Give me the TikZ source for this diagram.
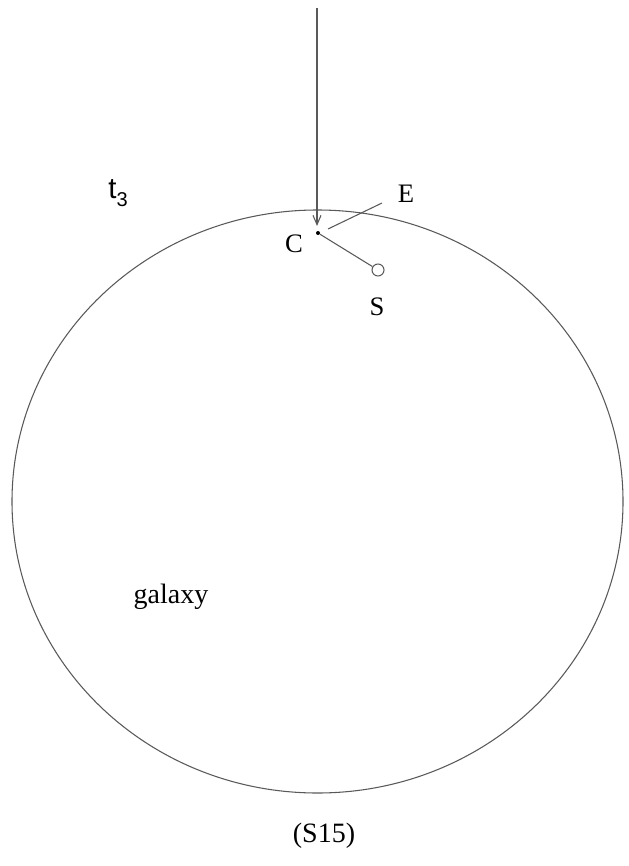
\documentclass[tikz,border=0pt]{standalone}
\usepackage{fontspec}
\setmainfont{Liberation Serif}
\newfontfamily\tfont{Liberation Sans}
\usetikzlibrary{arrows.meta}
\begin{document}
\begin{tikzpicture}[x=0.75pt,y=-0.75pt,
  ln/.style={draw=black!65,line width=0.8pt},
  lbl/.style={inner sep=0pt,font=\fontsize{20}{24}\selectfont},
  big/.style={inner sep=0pt,font=\fontsize{21}{24}\selectfont}]
\useasboundingbox (0,0) rectangle (628,866);
% galaxy boundary
\draw[ln] (317.5,501.5) ellipse [x radius=305.5,y radius=291.5];
% incoming arrow
\coordinate (top) at (317,8);
\coordinate (tip) at (317,226);
\draw[ln,-{Straight Barb[length=7pt,width=6pt]}] (top) -- (tip);
% C point and S
\node[circle,fill=black,inner sep=0pt,minimum size=3pt] (c) at (318,233) {};
\node[circle,ln,fill=white,inner sep=0pt,minimum size=9pt] (s) at (378,270) {};
\draw[ln] (c) -- (s);
% E leader
\coordinate (e1) at (328,229);
\coordinate (e2) at (382,203);
\draw[ln] (e1) -- (e2);
% labels
\node[lbl] (lc) at (294,244) {C};
\node[lbl] (le) at (406,194) {E};
\node[lbl] (ls) at (377,307) {S};
\node[inner sep=0pt,font=\tfont\fontsize{22}{26}\selectfont] (t3) at (118,193) {t\raisebox{-6pt}{\fontsize{15}{18}\selectfont 3}};
\node[big] (gal) at (171,597) {galaxy};
\node[big] (cap) at (324,836) {(S15)};
\end{tikzpicture}
\end{document}
